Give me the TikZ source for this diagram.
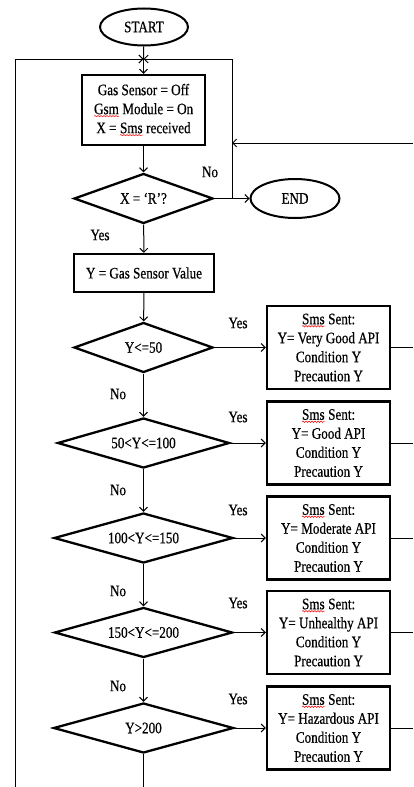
\documentclass[tikz,border=0pt]{standalone}
\usepackage{fontspec}
\setmainfont{Liberation Serif}[FakeStretch=0.82,FakeBold=0.5]
\usetikzlibrary{shapes.geometric,arrows.meta,decorations.pathmorphing}
\newcommand\spellwave[1]{\tikz[baseline=(w.base),x=1pt,y=1pt]{%
  \node[shape=rectangle,draw=none,inner sep=0pt,outer sep=0pt,minimum width=0pt,minimum height=0pt] (w) {#1};
  \draw[red,line width=0.5pt,decorate,decoration={snake,amplitude=0.7pt,segment length=3pt}]
    ([yshift=-2pt]w.base west) -- ([yshift=-2pt]w.base east);}}

\tikzset{
  flowtxt/.style={font=\fontsize{16}{19}\selectfont, align=center},
  termnode/.style={flowtxt, draw, line width=2pt, ellipse, inner sep=0pt},
  procbox/.style={flowtxt, draw, line width=2.3pt, inner sep=0pt},
  testnode/.style={flowtxt, draw, line width=2.3pt, diamond, aspect=3, inner sep=0pt},
  flow/.style={line width=1pt},
  flowarr/.style={flow, -{Straight Barb[length=4pt,width=8pt]}}
}

\begin{document}
\begin{tikzpicture}[x=1pt,y=-1pt]
\useasboundingbox (0,0) rectangle (413,787);
\node[termnode, minimum width=88pt, minimum height=37pt] (start) at (144,27) {START};
\node[procbox, minimum width=123pt, minimum height=70pt] (init) at (143.5,110) {Gas Sensor = Off\\\spellwave{Gsm} Module = On\\X = \spellwave{Sms} received};
\node[testnode, minimum width=139pt, minimum height=50pt] (isr) at (143.5,198.5) {X = `R'?};
\node[termnode, minimum width=89pt, minimum height=39pt] (end) at (295,198.5) {END};
\node[procbox, minimum width=140pt, minimum height=38pt] (read) at (144,273) {Y = Gas Sensor Value};
\node[flowtxt] (isrno) at (210,172) {No};
\node[flowtxt] (isryes) at (100,235) {Yes};

\coordinate (join) at (143.5,59);
\coordinate (nojoin) at (232,198.5);
\coordinate (back) at (413,143);
\coordinate (backin) at (232,143);
\coordinate (lbot) at (15,787);
\coordinate (bot) at (143.5,787);

\draw[flow] (start) -- (join);
\draw[flowarr] (join) -- (init);
\draw[flowarr] (lbot) |- (join);
\draw[flowarr] (nojoin) |- (join);
\draw[flowarr] (back) -- (backin);
\draw[flowarr] (init) -- (isr);
\draw[flowarr] (isr.east) -- (end.west);
\draw[flowarr] (isr) -- (read);

\foreach \i/\y/\w/\ly/\test/\api in {1/347.5/139/323/{Y<=50}/{Very Good}, 2/443/172/417/{50<Y<=100}/Good, 3/538/179/510/{100<Y<=150}/Moderate, 4/632.5/178/603/{150<Y<=200}/Unhealthy, 5/728/180/699/{Y>200}/Hazardous}{
  \node[testnode, minimum width=\w pt, minimum height=50pt] (t\i) at (143.5,\y) {\test};
  \node[procbox, minimum width=123pt, minimum height=83pt] (sms\i) at (328.5,\y) {\spellwave{Sms} Sent:\\Y= \api{} API\\Condition Y\\Precaution Y};
  \node[flowtxt] (yes\i) at (238,\ly) {Yes};
  \coordinate (out\i) at (413,\y);
  \draw[flowarr] (t\i.east) -- (sms\i.west);
  \draw[flow] (sms\i.east) -- (out\i);
}
\draw[flowarr] (read) -- (t1);
\foreach \a/\b/\ny in {1/2/394, 2/3/490, 3/4/591, 4/5/686}{
  \draw[flowarr] (t\a.south) -- (t\b.north);
  \node[flowtxt] (no\a) at (118,\ny) {No};
}
\draw[flow] (t5.south) -- (bot);
\end{tikzpicture}
\end{document}
